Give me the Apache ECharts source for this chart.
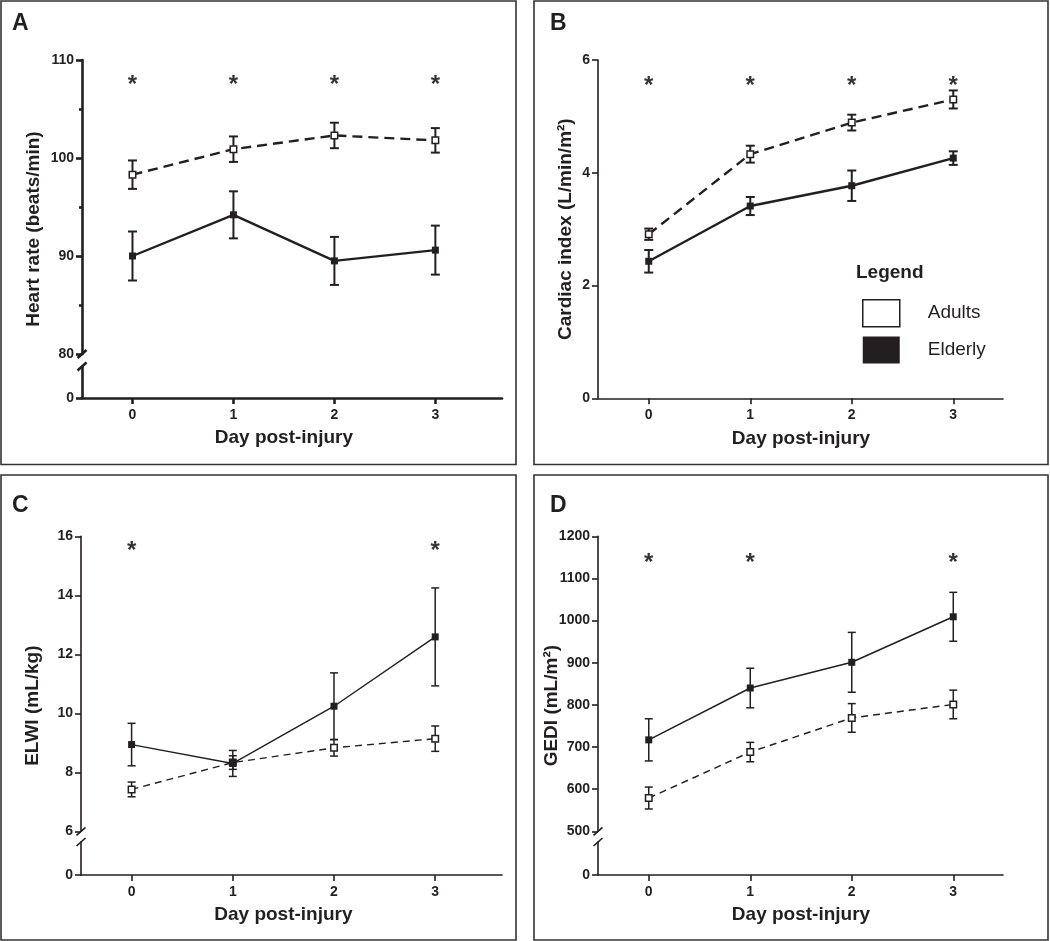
<!DOCTYPE html>
<html><head><meta charset="utf-8">
<script src="https://cdn.jsdelivr.net/npm/echarts@6/dist/echarts.min.js"></script>
<style>html,body{margin:0;padding:0;background:#fff}#c{width:1050px;height:941px}</style>
</head><body><div id="c"></div>
<script>
// ---------- data ----------
const days = [0, 1, 2, 3];
const dayTicks = [0, 1, 2, 3];

const hrAdults = [98.3, 100.9, 102.3, 101.8];
const hrAdultsErr = [1.45, 1.3, 1.3, 1.25];
const hrElderly = [90.0, 94.2, 89.5, 90.6];
const hrElderlyErr = [2.5, 2.4, 2.45, 2.5];
const hrStarDays = [0, 1, 2, 3];
const hrStarY = [108, 108, 108, 108];
const hrTicks = [80, 90, 100, 110];

const ciAdults = [2.91, 4.33, 4.89, 5.30];
const ciAdultsErr = [0.10, 0.15, 0.14, 0.16];
const ciElderly = [2.43, 3.41, 3.77, 4.26];
const ciElderlyErr = [0.20, 0.16, 0.27, 0.12];
const ciStarDays = [0, 1, 2, 3];
const ciStarY = [5.64, 5.64, 5.64, 5.64];
const ciTicks = [0, 2, 4, 6];

const elwiAdults = [7.42, 8.33, 8.83, 9.14];
const elwiAdultsErr = [0.25, 0.23, 0.28, 0.43];
const elwiElderly = [8.94, 8.30, 10.24, 12.59];
const elwiElderlyErr = [0.72, 0.44, 1.13, 1.66];
const elwiStarDays = [0, 3];
const elwiStarY = [15.7, 15.7];
const elwiTicks = [6, 8, 10, 12, 14, 16];

const gediAdults = [579, 688, 769, 801];
const gediAdultsErr = [26, 23, 34, 34];
const gediElderly = [717, 840, 901, 1009];
const gediElderlyErr = [50, 47, 71, 58];
const gediStarDays = [0, 1, 3];
const gediStarY = [1150, 1150, 1150];
const gediTicks = [500, 600, 700, 800, 900, 1000, 1100, 1200];

const legendNames = ['Adults', 'Elderly'];

// ---------- styling ----------
const INK = '#231f20';
const FONT = '"Liberation Sans", Arial, Helvetica, sans-serif';

const grids = [], xAxes = [], yAxes = [], series = [], graphics = [];

function errSeries(xi, yi, mean, err, cap, lw) {
  return {
    type: 'custom', xAxisIndex: xi, yAxisIndex: yi, z: 2, silent: true, animation: false,
    data: days.map((d, i) => [d, mean[i], err[i]]),
    encode: { x: 0, y: 1 },
    renderItem: (params, api) => {
      const x = api.value(0), m = api.value(1), e = api.value(2);
      const hi = api.coord([x, m + e]), lo = api.coord([x, m - e]);
      const st = { stroke: INK, lineWidth: lw };
      return { type: 'group', children: [
        { type: 'line', shape: { x1: hi[0], y1: hi[1], x2: lo[0], y2: lo[1] }, style: st },
        { type: 'line', shape: { x1: hi[0] - cap, y1: hi[1], x2: hi[0] + cap, y2: hi[1] }, style: st },
        { type: 'line', shape: { x1: lo[0] - cap, y1: lo[1], x2: lo[0] + cap, y2: lo[1] }, style: st }
      ]};
    }
  };
}

function panel(p) {
  const width = p.right - p.left;
  const axisLine = { show: true, onZero: false, lineStyle: { color: INK, width: p.axisW } };
  const tick = { show: true, length: 6, lineStyle: { color: INK, width: p.axisW } };
  const lab = { color: INK, fontFamily: FONT, fontWeight: 'bold', fontSize: 14, formatter: v => String(v) };
  // upper / main grid
  const gUp = grids.length;
  const upBottom = p.broken ? p.upperBottom : p.bottom;
  grids.push({ left: p.left, top: p.top, width: width, height: upBottom - p.top, outerBoundsMode: 'none', containLabel: false });
  const xUp = xAxes.length;
  xAxes.push({
    gridIndex: gUp, type: 'value', min: -0.5, max: p.xMax, show: !p.broken,
    axisLine: axisLine, axisTick: Object.assign({ customValues: dayTicks }, tick),
    axisLabel: Object.assign({ customValues: dayTicks, margin: 10 }, lab),
    splitLine: { show: false }
  });
  const yUp = yAxes.length;
  yAxes.push({
    gridIndex: gUp, type: 'value', min: p.yMin, max: p.yMax, interval: p.yInterval,
    axisLine: axisLine, axisTick: tick,
    minorTick: { show: !!p.minor, splitNumber: 2, length: 3, lineStyle: { color: INK, width: p.axisW } },
    axisLabel: Object.assign({ margin: 8 }, lab),
    splitLine: { show: false }, minorSplitLine: { show: false }
  });
  if (p.broken) {
    const gLo = grids.length;
    grids.push({ left: p.left, top: p.lowerTop, width: width, height: p.bottom - p.lowerTop, outerBoundsMode: 'none', containLabel: false });
    xAxes.push({
      gridIndex: gLo, type: 'value', min: -0.5, max: p.xMax,
      axisLine: axisLine, axisTick: Object.assign({ customValues: dayTicks }, tick),
      axisLabel: Object.assign({ customValues: dayTicks, margin: 10 }, lab),
      splitLine: { show: false }
    });
    yAxes.push({
      gridIndex: gLo, type: 'value', min: 0, max: 1,
      axisLine: axisLine, axisTick: Object.assign({ customValues: [0] }, tick),
      axisLabel: Object.assign({ customValues: [0], margin: 8 }, lab),
      splitLine: { show: false }
    });
    // axis-break slashes
    [p.upperBottom, p.lowerTop].forEach(yc => {
      graphics.push({ type: 'line', shape: { x1: p.left - 4.5, y1: yc + 4, x2: p.left + 4.5, y2: yc - 4 },
        style: { stroke: INK, lineWidth: p.axisW } });
    });
  }
  // error bars
  series.push(errSeries(xUp, yUp, p.adults, p.adultsErr, p.cap, p.errW));
  series.push(errSeries(xUp, yUp, p.elderly, p.elderlyErr, p.cap, p.errW));
  // lines
  series.push({
    type: 'line', name: 'Adults', xAxisIndex: xUp, yAxisIndex: yUp, z: 3, animation: false, silent: true,
    data: days.map((d, i) => [d, p.adults[i]]),
    symbol: 'rect', symbolSize: 6.5, showSymbol: true,
    lineStyle: { color: INK, width: p.lineW, type: p.dash },
    itemStyle: { color: '#fff', borderColor: INK, borderWidth: 1.5 }
  });
  series.push({
    type: 'line', name: 'Elderly', xAxisIndex: xUp, yAxisIndex: yUp, z: 3, animation: false, silent: true,
    data: days.map((d, i) => [d, p.elderly[i]]),
    symbol: 'rect', symbolSize: 7, showSymbol: true,
    lineStyle: { color: INK, width: p.lineW, type: 'solid' },
    itemStyle: { color: INK, borderColor: INK, borderWidth: 0 }
  });
  // significance asterisks
  series.push({
    type: 'scatter', xAxisIndex: xUp, yAxisIndex: yUp, z: 4, animation: false, silent: true,
    data: p.starDays.map((d, i) => [d, p.starY[i]]),
    symbol: 'circle', symbolSize: 1, itemStyle: { color: 'rgba(0,0,0,0)' },
    label: { show: true, position: 'inside', formatter: '*', color: '#000', fontFamily: FONT,
      fontWeight: 'bold', fontSize: 24, offset: [0, 6] }
  });
  // titles
  const xCenter = p.left + (1.5 + 0.5) / (p.xMax + 0.5) * width;
  graphics.push({ type: 'text', x: xCenter, y: p.bottom + 40,
    style: { text: 'Day post-injury', fill: INK, font: 'bold 19px ' + FONT, align: 'center', verticalAlign: 'middle' } });
  graphics.push({ type: 'text', x: p.yTitleX, y: (p.top + p.bottom) / 2, rotation: Math.PI / 2,
    style: { text: p.yTitle, fill: INK, font: 'bold 19px ' + FONT, align: 'center', verticalAlign: 'middle' } });
  graphics.push({ type: 'text', x: p.letterX, y: p.letterY,
    style: { text: p.letter, fill: INK, font: 'bold 23px ' + FONT, align: 'left', verticalAlign: 'top' } });
  graphics.push({ type: 'rect', shape: p.frame, style: { fill: 'none', stroke: '#333', lineWidth: 1.6 }, z: -1 });
}

panel({ letter: 'A', letterX: 12, letterY: 12, frame: { x: 1, y: 1, width: 515, height: 463.5 },
  left: 82, right: 502, top: 60, upperBottom: 354, lowerTop: 366.5, bottom: 398, xMax: 3.66, broken: true,
  yMin: 80, yMax: 110, yInterval: 10, minor: true,
  axisW: 2.6, lineW: 2.4, errW: 2, cap: 4.5, dash: [10, 6],
  adults: hrAdults, adultsErr: hrAdultsErr, elderly: hrElderly, elderlyErr: hrElderlyErr,
  starDays: hrStarDays, starY: hrStarY, yTitle: 'Heart rate (beats/min)', yTitleX: 34 });

panel({ letter: 'B', letterX: 550, letterY: 12, frame: { x: 534, y: 1, width: 514, height: 463.5 },
  left: 598, right: 1003, top: 60, bottom: 398.3, xMax: 3.49, broken: false,
  yMin: 0, yMax: 6, yInterval: 2, minor: false,
  axisW: 1.6, lineW: 2.4, errW: 2, cap: 4.5, dash: [10, 6],
  adults: ciAdults, adultsErr: ciAdultsErr, elderly: ciElderly, elderlyErr: ciElderlyErr,
  starDays: ciStarDays, starY: ciStarY, yTitle: 'Cardiac index (L/min/m\u00B2)', yTitleX: 566 });

panel({ letter: 'C', letterX: 12, letterY: 494, frame: { x: 1, y: 475, width: 515, height: 465 },
  left: 81, right: 502, top: 536.3, upperBottom: 831.3, lowerTop: 842, bottom: 875, xMax: 3.66, broken: true,
  yMin: 6, yMax: 16, yInterval: 2, minor: false,
  axisW: 1.6, lineW: 1.4, errW: 1.5, cap: 4, dash: [7, 5],
  adults: elwiAdults, adultsErr: elwiAdultsErr, elderly: elwiElderly, elderlyErr: elwiElderlyErr,
  starDays: elwiStarDays, starY: elwiStarY, yTitle: 'ELWI (mL/kg)', yTitleX: 33 });

panel({ letter: 'D', letterX: 550, letterY: 494, frame: { x: 534, y: 475, width: 514, height: 465 },
  left: 598, right: 1003, top: 536.3, upperBottom: 831.3, lowerTop: 842, bottom: 875, xMax: 3.49, broken: true,
  yMin: 500, yMax: 1200, yInterval: 100, minor: false,
  axisW: 1.6, lineW: 1.5, errW: 1.5, cap: 4, dash: [7, 5],
  adults: gediAdults, adultsErr: gediAdultsErr, elderly: gediElderly, elderlyErr: gediElderlyErr,
  starDays: gediStarDays, starY: gediStarY, yTitle: 'GEDI (mL/m\u00B2)', yTitleX: 552 });

graphics.push({ type: 'text', x: 856, y: 273,
  style: { text: 'Legend', fill: INK, font: 'bold 19px ' + FONT, align: 'left', verticalAlign: 'middle' } });

const chart = echarts.init(document.getElementById('c'), null, { renderer: 'canvas' });
chart.setOption({
  animation: false,
  backgroundColor: '#fff',
  grid: grids, xAxis: xAxes, yAxis: yAxes, series: series,
  legend: {
    left: 857, top: 294, orient: 'vertical', icon: 'rect', itemWidth: 37, itemHeight: 27, itemGap: 9,
    selectedMode: false,
    textStyle: { color: INK, fontFamily: FONT, fontSize: 19, padding: [0, 0, 0, 23] },
    data: [
      { name: legendNames[0], icon: 'rect', itemStyle: { color: '#fff', borderColor: INK, borderWidth: 1.5 } },
      { name: legendNames[1], icon: 'rect', itemStyle: { color: INK, borderColor: INK, borderWidth: 0 } }
    ]
  },
  graphic: graphics
});
</script></body></html>
